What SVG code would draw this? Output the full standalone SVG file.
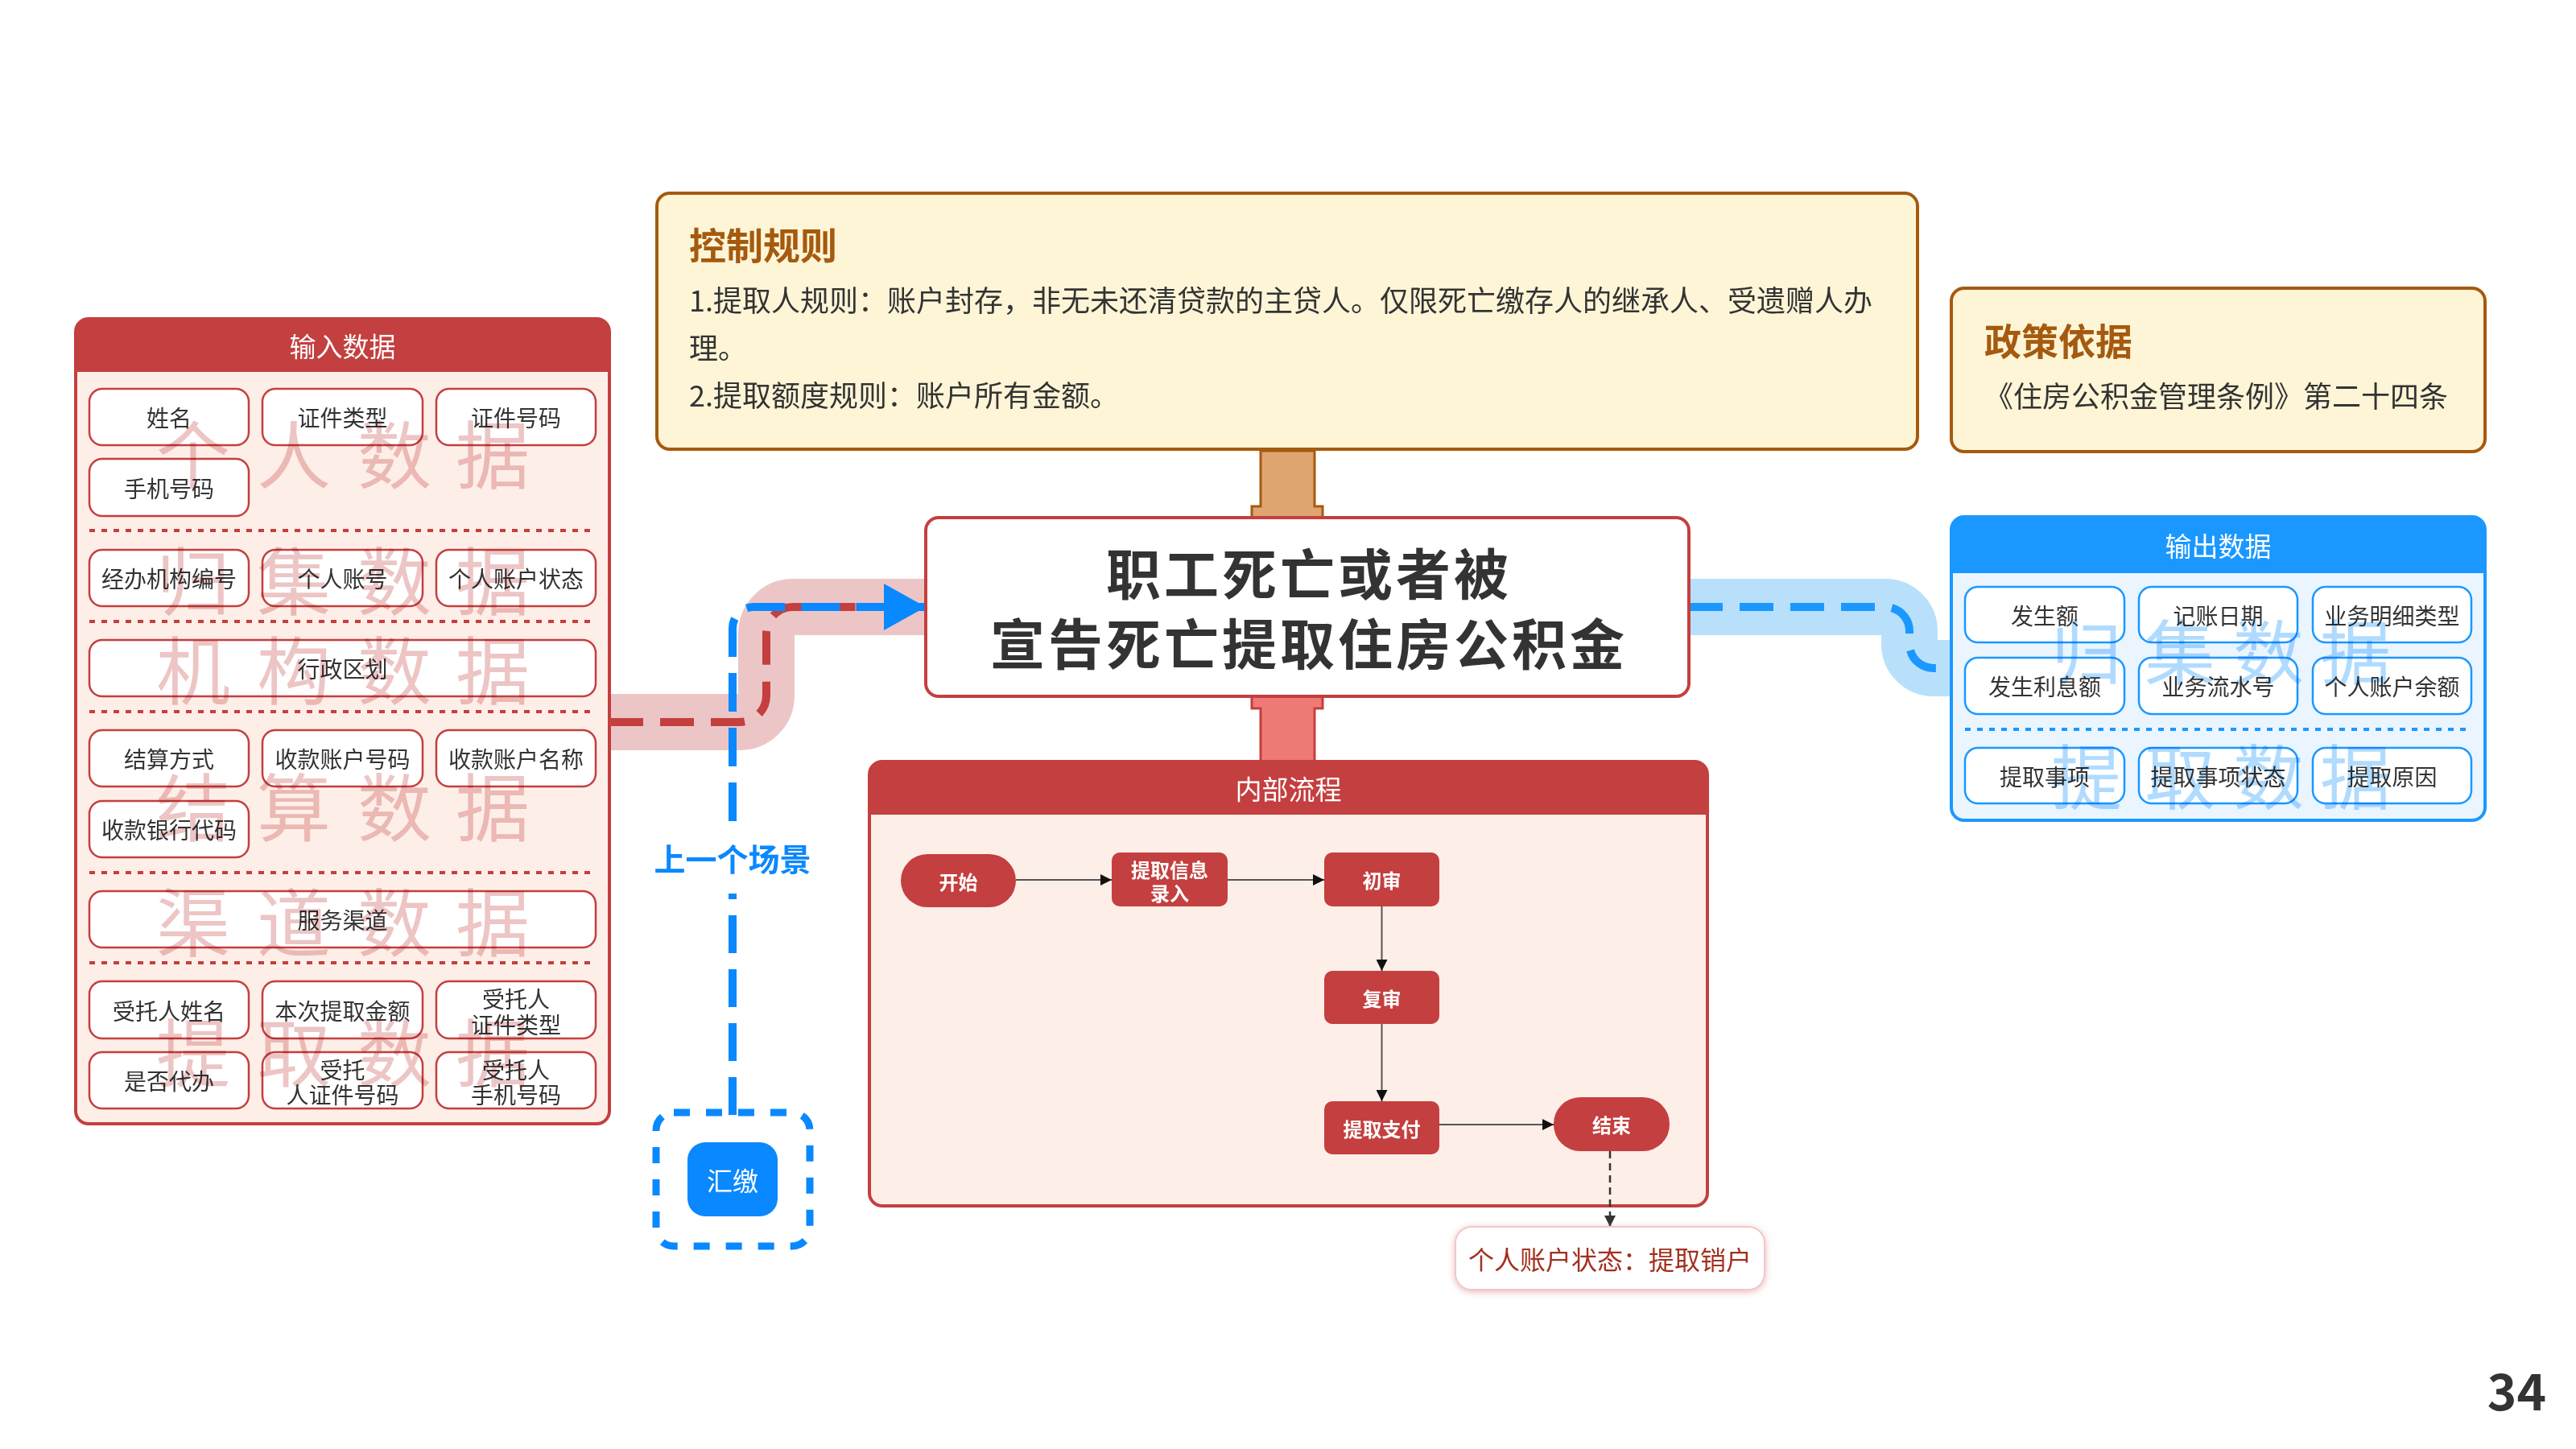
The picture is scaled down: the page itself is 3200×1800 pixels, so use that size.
<svg xmlns="http://www.w3.org/2000/svg" width="3200" height="1800" viewBox="0 0 3200 1800">
<style>
text{font-family:"Noto Sans CJK SC","Noto Sans",sans-serif}
.box{fill:#fff;stroke:#c43f3f;stroke-width:2.5}
.bbox{fill:#fff;stroke:#1a98ff;stroke-width:2.5}
.t{font-size:28px;fill:#333;text-anchor:middle;dominant-baseline:central}
.hd{font-size:33px;fill:#fff;text-anchor:middle;dominant-baseline:central}
.wmr{font-size:92px;fill:#c43f3f;opacity:0.3;text-anchor:middle;mix-blend-mode:multiply}
.wmb{font-size:88px;fill:#1a98ff;opacity:0.35;text-anchor:middle;mix-blend-mode:multiply}
.rdot{stroke:#c43f3f;stroke-width:4;stroke-dasharray:7 8}
.bdot{stroke:#1a98ff;stroke-width:4;stroke-dasharray:7 8}
.fn{fill:#c43f3f}
.ft{font-size:24px;font-weight:bold;fill:#fff;text-anchor:middle;dominant-baseline:central}
.fl{stroke:#555;stroke-width:2;fill:none;marker-end:url(#ah)}
.ttl{font-size:46px;font-weight:bold;fill:#a55a0f}
.body{font-size:36px;fill:#333}
</style>
<defs>
<marker id="ah" viewBox="0 0 10 10" refX="10" refY="5" markerWidth="14" markerHeight="14" markerUnits="userSpaceOnUse" orient="auto"><path d="M0,0 L10,5 L0,10 z" fill="#111"/></marker>
<marker id="ahd" viewBox="0 0 10 10" refX="10" refY="5" markerWidth="14" markerHeight="14" markerUnits="userSpaceOnUse" orient="auto"><path d="M0,0 L10,5 L0,10 z" fill="#333"/></marker>
<marker id="bah" viewBox="0 0 52 58" refX="52" refY="29" markerWidth="52" markerHeight="58" markerUnits="userSpaceOnUse" orient="auto"><path d="M0,0 L52,29 L0,58 z" fill="#0a88ff"/></marker>
<filter id="sh" x="-10%" y="-30%" width="120%" height="160%"><feDropShadow dx="0" dy="2" stdDeviation="4" flood-color="#d98a8a" flood-opacity="0.6"/></filter>
</defs>
<rect width="3200" height="1800" fill="#fff"/>

<!-- connectors -->
<g id="connectors">
  <path d="M757,897 H919 A33,33 0 0 0 952,864 V787 A33,33 0 0 1 985,754 H1150" fill="none" stroke="#ecc6c6" stroke-width="70"/>
  <path d="M757,897 H919 A33,33 0 0 0 952,864 V787 A33,33 0 0 1 985,754 H1150" fill="none" stroke="#c43f3f" stroke-width="10" stroke-dasharray="42 21"/>
  <path d="M910,1020 V780 A26,26 0 0 1 936,754 H1150" fill="none" stroke="#0a88ff" stroke-width="10" stroke-dasharray="48 20" marker-end="url(#bah)"/>
  <path d="M910,1385 V1110" fill="none" stroke="#0a88ff" stroke-width="10" stroke-dasharray="47 20"/>
  <path d="M2098,754 H2342 A30,30 0 0 1 2372,784 V800 A30,30 0 0 0 2402,830 H2424" fill="none" stroke="#b9e0fb" stroke-width="70"/>
  <path d="M2098,754 H2342 A30,30 0 0 1 2372,784 V800 A30,30 0 0 0 2402,830 H2424" fill="none" stroke="#1a98ff" stroke-width="10" stroke-dasharray="42 21"/>
  <path d="M1566,560 V629 H1555 V645 H1643 V629 H1633 V560 Z" fill="#dfa571" stroke="#a55a0f" stroke-width="3"/>
  <path d="M1555,865 V880 H1566 V946 H1633 V880 H1643 V865 Z" fill="#ee7a76" stroke="#c43f3f" stroke-width="3"/>
  <text x="910" y="1082" text-anchor="middle" font-size="39" font-weight="bold" fill="#0a88ff">上一个场景</text>
</g>

<!-- control rules -->
<g id="control-rules">
  <rect x="816" y="240" width="1566" height="318" rx="16" fill="#fef5d7" stroke="#a55a0f" stroke-width="4"/>
  <text class="ttl" x="856" y="322">控制规则</text>
  <text class="body" x="856" y="387">1.提取人规则：账户封存，非无未还清贷款的主贷人。仅限死亡缴存人的继承人、受遗赠人办</text>
  <text class="body" x="856" y="446">理。</text>
  <text class="body" x="856" y="505">2.提取额度规则：账户所有金额。</text>
</g>

<!-- policy -->
<g id="policy">
  <rect x="2424" y="358" width="663" height="203" rx="16" fill="#fef5d7" stroke="#a55a0f" stroke-width="4"/>
  <text class="ttl" x="2465" y="441">政策依据</text>
  <text class="body" x="2465" y="506">《住房公积金管理条例》第二十四条</text>
</g>

<!-- central -->
<g id="central">
  <rect x="1150" y="643" width="948" height="222" rx="16" fill="#fff" stroke="#c43f3f" stroke-width="4"/>
  <text x="1626" y="739" text-anchor="middle" font-size="68" font-weight="bold" letter-spacing="4" fill="#333">职工死亡或者被</text>
  <text x="1626" y="826" text-anchor="middle" font-size="68" font-weight="bold" letter-spacing="4" fill="#333">宣告死亡提取住房公积金</text>
</g>

<!-- input panel -->
<g id="input-panel">
  <rect x="94" y="396" width="663" height="1000" rx="16" fill="#fdeee8" stroke="#c43f3f" stroke-width="4"/>
  <path d="M94,412 A16,16 0 0 1 110,396 H741 A16,16 0 0 1 757,412 V462 H94 Z" fill="#c43f3f"/>
  <text class="hd" x="425.5" y="429">输入数据</text>
  <line class="rdot" x1="111" y1="659" x2="740" y2="659"/>
  <line class="rdot" x1="111" y1="772" x2="740" y2="772"/>
  <line class="rdot" x1="111" y1="884" x2="740" y2="884"/>
  <line class="rdot" x1="111" y1="1084" x2="740" y2="1084"/>
  <line class="rdot" x1="111" y1="1196" x2="740" y2="1196"/>
</g>
<g id="in-xingming"><rect class="box" x="111" y="483" width="198" height="70" rx="16"/><text class="t" x="210" y="518">姓名</text></g>
<g id="in-zjlx"><rect class="box" x="326" y="483" width="199" height="70" rx="16"/><text class="t" x="425.5" y="518">证件类型</text></g>
<g id="in-zjhm"><rect class="box" x="542" y="483" width="198" height="70" rx="16"/><text class="t" x="641" y="518">证件号码</text></g>
<g id="in-sjhm"><rect class="box" x="111" y="570" width="198" height="71" rx="16"/><text class="t" x="210" y="605.5">手机号码</text></g>
<g id="in-jbjg"><rect class="box" x="111" y="683" width="198" height="70" rx="16"/><text class="t" x="210" y="718">经办机构编号</text></g>
<g id="in-grzh"><rect class="box" x="326" y="683" width="199" height="70" rx="16"/><text class="t" x="425.5" y="718">个人账号</text></g>
<g id="in-grzhzt"><rect class="box" x="542" y="683" width="198" height="70" rx="16"/><text class="t" x="641" y="718">个人账户状态</text></g>
<g id="in-xzqh"><rect class="box" x="111" y="795" width="629" height="70" rx="16"/><text class="t" x="425.5" y="830">行政区划</text></g>
<g id="in-jsfs"><rect class="box" x="111" y="907" width="198" height="70" rx="16"/><text class="t" x="210" y="942">结算方式</text></g>
<g id="in-skzhhm"><rect class="box" x="326" y="907" width="199" height="70" rx="16"/><text class="t" x="425.5" y="942">收款账户号码</text></g>
<g id="in-skzhmc"><rect class="box" x="542" y="907" width="198" height="70" rx="16"/><text class="t" x="641" y="942">收款账户名称</text></g>
<g id="in-skyhdm"><rect class="box" x="111" y="995" width="198" height="70" rx="16"/><text class="t" x="210" y="1030">收款银行代码</text></g>
<g id="in-fwqd"><rect class="box" x="111" y="1107" width="629" height="70" rx="16"/><text class="t" x="425.5" y="1142">服务渠道</text></g>
<g id="in-strxm"><rect class="box" x="111" y="1219" width="198" height="71" rx="16"/><text class="t" x="210" y="1254.5">受托人姓名</text></g>
<g id="in-bctqje"><rect class="box" x="326" y="1219" width="199" height="71" rx="16"/><text class="t" x="425.5" y="1254.5">本次提取金额</text></g>
<g id="in-strzjlx"><rect class="box" x="542" y="1219" width="198" height="71" rx="16"/><text class="t" x="641" y="1240">受托人</text><text class="t" x="641" y="1272">证件类型</text></g>
<g id="in-sfdb"><rect class="box" x="111" y="1307" width="198" height="70" rx="16"/><text class="t" x="210" y="1342">是否代办</text></g>
<g id="in-strzjhm"><rect class="box" x="326" y="1307" width="199" height="70" rx="16"/><text class="t" x="425.5" y="1328">受托</text><text class="t" x="425.5" y="1359">人证件号码</text></g>
<g id="in-strsjhm"><rect class="box" x="542" y="1307" width="198" height="70" rx="16"/><text class="t" x="641" y="1328">受托人</text><text class="t" x="641" y="1359">手机号码</text></g>
<g id="input-watermarks">
  <text class="wmr" x="240 365 490 612" y="600">个人数据</text>
  <text class="wmr" x="240 365 490 612" y="757">归集数据</text>
  <text class="wmr" x="240 365 490 612" y="868">机构数据</text>
  <text class="wmr" x="240 365 490 612" y="1038">结算数据</text>
  <text class="wmr" x="240 365 490 612" y="1181">渠道数据</text>
  <text class="wmr" x="240 365 490 612" y="1343">提取数据</text>
</g>

<!-- output panel -->
<g id="output-panel">
  <rect x="2424" y="642" width="663" height="377" rx="16" fill="#eaf5ff" stroke="#1a98ff" stroke-width="4"/>
  <path d="M2424,658 A16,16 0 0 1 2440,642 H3071 A16,16 0 0 1 3087,658 V712 H2424 Z" fill="#1a98ff"/>
  <text class="hd" x="2755.5" y="677">输出数据</text>
  <line class="bdot" x1="2441" y1="906" x2="3070" y2="906"/>
</g>
<g id="out-fse"><rect class="bbox" x="2441" y="729" width="198" height="69" rx="16"/><text class="t" x="2540" y="763.5">发生额</text></g>
<g id="out-jzrq"><rect class="bbox" x="2657" y="729" width="197" height="69" rx="16"/><text class="t" x="2755.5" y="763.5">记账日期</text></g>
<g id="out-ywmxlx"><rect class="bbox" x="2873" y="729" width="197" height="69" rx="16"/><text class="t" x="2971.5" y="763.5">业务明细类型</text></g>
<g id="out-fslxe"><rect class="bbox" x="2441" y="817" width="198" height="70" rx="16"/><text class="t" x="2540" y="852">发生利息额</text></g>
<g id="out-ywlsh"><rect class="bbox" x="2657" y="817" width="197" height="70" rx="16"/><text class="t" x="2755.5" y="852">业务流水号</text></g>
<g id="out-grzhye"><rect class="bbox" x="2873" y="817" width="197" height="70" rx="16"/><text class="t" x="2971.5" y="852">个人账户余额</text></g>
<g id="out-tqsx"><rect class="bbox" x="2441" y="929" width="198" height="69" rx="16"/><text class="t" x="2540" y="963.5">提取事项</text></g>
<g id="out-tqsxzt"><rect class="bbox" x="2657" y="929" width="197" height="69" rx="16"/><text class="t" x="2755.5" y="963.5">提取事项状态</text></g>
<g id="out-tqyy"><rect class="bbox" x="2873" y="929" width="197" height="69" rx="16"/><text class="t" x="2971.5" y="963.5">提取原因</text></g>
<g id="output-watermarks">
  <text class="wmb" x="2592 2708 2818 2926" y="843">归集数据</text>
  <text class="wmb" x="2592 2708 2818 2926" y="998">提取数据</text>
</g>

<!-- previous scene -->
<g id="prev-scene">
  <rect x="815" y="1382" width="191" height="166" rx="22" fill="none" stroke="#0a88ff" stroke-width="9" stroke-dasharray="20 20"/>
</g>
<g id="huijiao">
  <rect x="854" y="1419" width="112" height="92" rx="22" fill="#0a88ff"/>
  <text x="910" y="1465" text-anchor="middle" dominant-baseline="central" font-size="32" fill="#fff">汇缴</text>
</g>

<!-- inner process -->
<g id="inner-process">
  <rect x="1080" y="946" width="1041" height="552" rx="16" fill="#fdeee8" stroke="#c43f3f" stroke-width="4"/>
  <path d="M1080,962 A16,16 0 0 1 1096,946 H2105 A16,16 0 0 1 2121,962 V1012 H1080 Z" fill="#c43f3f"/>
  <text class="hd" x="1600.5" y="979">内部流程</text>
</g>
<g id="flow-connectors">
  <path class="fl" d="M1262,1093 H1381"/>
  <path class="fl" d="M1525,1093 H1645"/>
  <path class="fl" d="M1716.5,1126 V1206"/>
  <path class="fl" d="M1716.5,1272 V1368"/>
  <path class="fl" d="M1788,1397 H1930"/>
  <path d="M2000,1430 V1524" fill="none" stroke="#333" stroke-width="2.5" stroke-dasharray="9 6" marker-end="url(#ahd)"/>
</g>
<g id="f-start"><rect class="fn" x="1119" y="1061" width="143" height="66" rx="33"/><text class="ft" x="1190.5" y="1094">开始</text></g>
<g id="f-input"><rect class="fn" x="1381" y="1059" width="144" height="67" rx="10"/><text class="ft" x="1453" y="1079">提取信息</text><text class="ft" x="1453" y="1108">录入</text></g>
<g id="f-first"><rect class="fn" x="1645" y="1059" width="143" height="67" rx="10"/><text class="ft" x="1716.5" y="1092.5">初审</text></g>
<g id="f-second"><rect class="fn" x="1645" y="1206" width="143" height="66" rx="10"/><text class="ft" x="1716.5" y="1239">复审</text></g>
<g id="f-pay"><rect class="fn" x="1645" y="1368" width="143" height="66" rx="10"/><text class="ft" x="1716.5" y="1401">提取支付</text></g>
<g id="f-end"><rect class="fn" x="1930" y="1363" width="144" height="67" rx="33"/><text class="ft" x="2002" y="1396.5">结束</text></g>
<g id="state">
  <rect x="1808" y="1524" width="384" height="78" rx="20" fill="#fff" stroke="#f0c8c8" stroke-width="2" filter="url(#sh)"/>
  <text x="2000" y="1563" text-anchor="middle" dominant-baseline="central" font-size="32" fill="#a3301f">个人账户状态：提取销户</text>
</g>

<text x="3163" y="1752" text-anchor="end" font-family="'Open Sans',sans-serif" font-size="62" font-weight="600" fill="#333">34</text>
</svg>
